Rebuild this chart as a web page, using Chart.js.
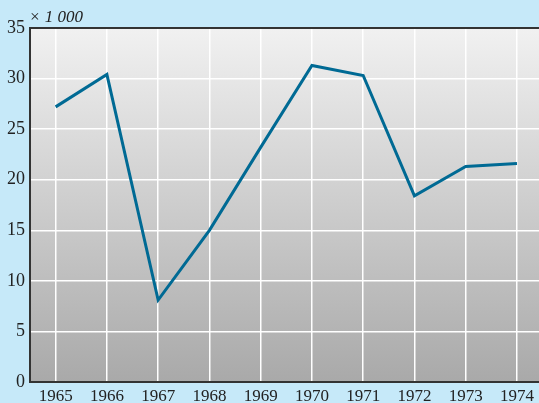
<!DOCTYPE html>
<html>
<head>
<meta charset="utf-8">
<script src="https://cdn.jsdelivr.net/npm/chart.js@4"></script>
<style>
  html, body { margin: 0; padding: 0; background: #c6e9f9; }
  canvas { display: block; }
</style>
</head>
<body>
<canvas id="chart" width="539" height="403"></canvas>
<script>
// values in thousands
const years = [1965, 1966, 1967, 1968, 1969, 1970, 1971, 1972, 1973, 1974];
const values = [27.2, 30.4, 8.1, 15.0, 23.2, 31.3, 30.3, 18.4, 21.3, 21.6];
const yTicks = [0, 5, 10, 15, 20, 25, 30, 35];
const unitLabel = '× 1 000';

const font = 'Liberation Serif';

const backdrop = {
    id: 'backdrop',
    beforeDraw(chart) {
        const { ctx, chartArea: a } = chart;
        ctx.save();
        ctx.fillStyle = '#c6e9f9';
        ctx.fillRect(0, 0, chart.width, chart.height);
        const g = ctx.createLinearGradient(0, a.top, 0, a.bottom);
        g.addColorStop(0, '#f1f1f1');
        g.addColorStop(1, '#a9a9a9');
        ctx.fillStyle = g;
        ctx.fillRect(a.left, a.top, a.right - a.left, a.bottom - a.top);
        ctx.restore();
    },
    afterDraw(chart) {
        const { ctx, chartArea: a } = chart;
        ctx.save();
        ctx.strokeStyle = '#333333';
        ctx.lineWidth = 2;
        ctx.strokeRect(a.left, a.top, a.right - a.left + 5, a.bottom - a.top);
        ctx.fillStyle = '#222222';
        ctx.font = 'italic 17px "' + font + '"';
        ctx.textBaseline = 'alphabetic';
        ctx.fillText(unitLabel, a.left - 1, a.top - 6);
        ctx.restore();
    }
};

new Chart(document.getElementById('chart'), {
    type: 'line',
    data: {
        datasets: [{
            data: years.map((y, i) => ({ x: y, y: values[i] })),
            borderColor: '#006a94',
            borderWidth: 3,
            pointRadius: 0,
            tension: 0,
            fill: false
        }]
    },
    options: {
        responsive: false,
        animation: false,
        layout: { padding: { top: 28, right: 0, left: 0, bottom: 0 } },
        plugins: {
            legend: { display: false },
            tooltip: { enabled: false }
        },
        scales: {
            x: {
                type: 'linear',
                min: 1964.5,
                max: 1974.43,
                afterBuildTicks: s => { s.ticks = years.map(v => ({ value: v })); },
                afterFit: s => { s.height = 21; },
                grid: { color: '#ffffff', lineWidth: 1.5, drawTicks: false },
                border: { display: false },
                ticks: {
                    padding: 4,
                    color: '#222222',
                    font: { family: font, size: 17 },
                    maxRotation: 0,
                    autoSkip: false,
                    callback: v => String(v)
                }
            },
            y: {
                min: 0,
                max: 35,
                afterBuildTicks: s => { s.ticks = yTicks.map(v => ({ value: v })); },
                afterFit: s => { s.width = 30; },
                grid: { color: '#ffffff', lineWidth: 1.5, drawTicks: false },
                border: { display: false },
                ticks: {
                    padding: 5,
                    color: '#222222',
                    font: { family: font, size: 18 },
                    callback: v => String(v)
                }
            }
        }
    },
    plugins: [backdrop]
});
</script>
</body>
</html>
